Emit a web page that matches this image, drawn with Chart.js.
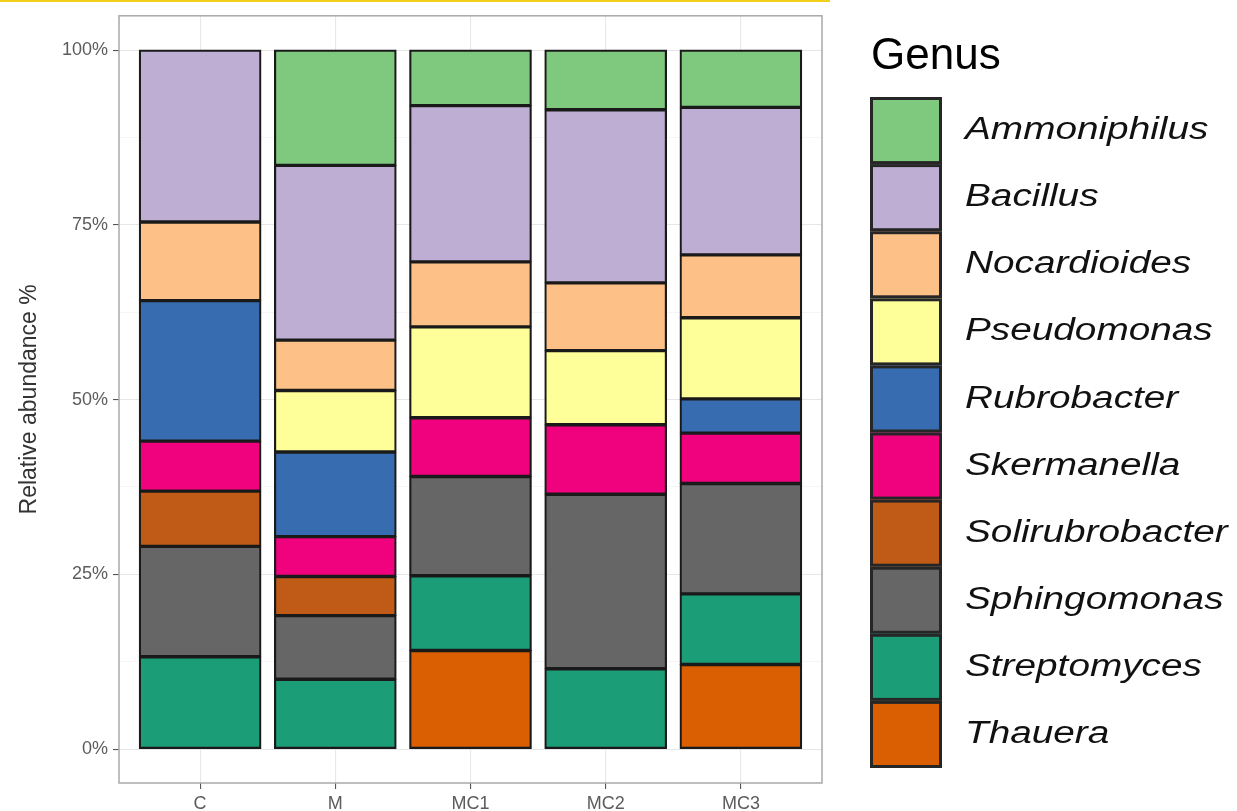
<!DOCTYPE html>
<html>
<head>
<meta charset="utf-8">
<title>Relative abundance by genus</title>
<script src="https://cdn.jsdelivr.net/npm/chart.js@4.4.1/dist/chart.umd.min.js"></script>
<style>
  html, body { margin: 0; padding: 0; background: #ffffff; }
  #wrap { position: relative; width: 1237px; height: 811px; }
  #topline { position: absolute; left: 0; top: 0; width: 830px; height: 2px; background: #f3cf1c; }
  canvas { display: block; }
</style>
</head>
<body>
<div id="wrap">
  <canvas id="chart" width="1237" height="811"></canvas>
  <div id="topline"></div>
</div>
<script>
// Samples along the x axis
const samples = ['C', 'M', 'MC1', 'MC2', 'MC3'];

// Relative abundance (%) of each genus per sample
const ammoniphilus    = [0,     16.5,  7.95,  8.53,  8.2];
const bacillus        = [24.6,  25.0,  22.35, 24.77, 21.1];
const nocardioides    = [11.25, 7.2,   9.3,   9.7,   9.0];
const pseudomonas     = [0,     8.8,   13.0,  10.6,  11.6];
const rubrobacter     = [20.1,  12.1,  0,     0,     4.9];
const skermanella     = [7.15,  5.7,   8.4,   9.95,  7.2];
const solirubrobacter = [7.9,   5.6,   0,     0,     0];
const sphingomonas    = [15.8,  9.1,   14.2,  24.95, 15.8];
const streptomyces    = [13.2,  10.0,  10.7,  11.5,  10.1];
const thauera         = [0,     0,     14.1,  0,     12.1];

// Legend order (top of each stack first) and fill colours
const genera  = ['Ammoniphilus', 'Bacillus', 'Nocardioides', 'Pseudomonas', 'Rubrobacter',
                 'Skermanella', 'Solirubrobacter', 'Sphingomonas', 'Streptomyces', 'Thauera'];
const colours = ['#7FC97F', '#BEAED4', '#FDC086', '#FFFF99', '#386CB0',
                 '#F0027F', '#BF5B17', '#666666', '#1B9E77', '#D95F02'];
const seriesValues = [ammoniphilus, bacillus, nocardioides, pseudomonas, rubrobacter,
                      skermanella, solirubrobacter, sphingomonas, streptomyces, thauera];

// Labelled y breaks; minor grid lines fall half-way between them
const yBreaks = [0, 25, 50, 75, 100];

const FAMILY = "'Liberation Sans', Arial, Helvetica, sans-serif";
Chart.defaults.font.family = FAMILY;

// Stacks are built bottom-up, so the last genus goes in first
const datasets = genera.map((name, g) => ({
  label: name,
  data: seriesValues[g].map((v, i) => ({ x: i, y: v })),
  backgroundColor: colours[g],
  borderColor: '#1a1a1a',
  borderWidth: 2.2,
  borderSkipped: false,
  inflateAmount: 0.5,
  categoryPercentage: 0.9,
  barPercentage: 1.0
})).reverse();

// Full panel frame around the plotting area
const panelFrame = {
  id: 'panelFrame',
  beforeDatasetsDraw(chart) {
    const { ctx, chartArea: a } = chart;
    ctx.save();
    ctx.strokeStyle = '#a9a9a9';
    ctx.lineWidth = 1.5;
    ctx.strokeRect(a.left, a.top, a.right - a.left, a.bottom - a.top);
    ctx.restore();
  }
};

// Legend with large stacked keys on the right
const genusLegend = {
  id: 'genusLegend',
  afterDraw(chart, args, opts) {
    const { ctx } = chart;
    const items = chart.data.datasets.slice().reverse();
    ctx.save();
    ctx.fillStyle = '#000';
    ctx.font = `44px ${FAMILY}`;
    ctx.textBaseline = 'alphabetic';
    ctx.textAlign = 'left';
    ctx.fillText(opts.title, opts.x + 1, opts.titleBaseline);

    items.forEach((ds, i) => {
      const top = opts.top + i * opts.keyH;
      ctx.fillStyle = ds.backgroundColor;
      ctx.fillRect(opts.x, top, opts.keyW, opts.keyH);
      ctx.lineWidth = 3;
      ctx.strokeStyle = '#262626';
      ctx.strokeRect(opts.x + 1.5, top + 1.5, opts.keyW - 3, opts.keyH - 3);

      ctx.save();
      ctx.translate(opts.labelX, top + opts.keyH / 2);
      ctx.scale(1.25, 1);
      ctx.font = `italic 31px ${FAMILY}`;
      ctx.textBaseline = 'middle';
      ctx.fillStyle = '#111';
      ctx.fillText(ds.label, 0, 0);
      ctx.restore();
    });
    ctx.restore();
  }
};

new Chart(document.getElementById('chart'), {
  type: 'bar',
  data: { datasets },
  plugins: [panelFrame, genusLegend],
  options: {
    responsive: false,
    animation: false,
    layout: { padding: { left: 0, top: 13, right: 415, bottom: 0 } },
    plugins: {
      legend: { display: false },
      tooltip: { enabled: false },
      genusLegend: {
        title: 'Genus',
        x: 870, top: 97, keyW: 72, keyH: 67.1,
        labelX: 965, titleBaseline: 69
      }
    },
    scales: {
      x: {
        type: 'linear',
        stacked: true,
        offset: false,
        min: -0.6,
        max: 4.6,
        afterBuildTicks(scale) {
          scale.ticks = samples.map((_, i) => ({ value: i }));
        },
        afterFit(scale) { scale.height = 28; },
        border: { display: false },
        grid: {
          offset: false,
          color: '#e8e8e8',
          lineWidth: 1.1,
          drawTicks: true,
          tickLength: 6,
          tickColor: '#555'
        },
        ticks: {
          autoSkip: false,
          maxRotation: 0,
          padding: 4,
          color: '#5c5c5c',
          font: { size: 18 },
          callback: (v) => samples[v] ?? ''
        }
      },
      y: {
        stacked: true,
        min: -4.85,
        max: 104.9,
        afterBuildTicks(scale) {
          const t = [];
          yBreaks.forEach((b, i) => {
            t.push({ value: b });
            if (i < yBreaks.length - 1) t.push({ value: (b + yBreaks[i + 1]) / 2 });
          });
          scale.ticks = t;
        },
        afterFit(scale) { scale.width = 119; },
        border: { display: false },
        grid: {
          color: (c) => (yBreaks.includes(c.tick && c.tick.value) ? '#e6e6e6' : '#f1f1f1'),
          lineWidth: (c) => (yBreaks.includes(c.tick && c.tick.value) ? 1.1 : 0.7),
          drawTicks: true,
          tickLength: 6,
          tickColor: (c) => (yBreaks.includes(c.tick && c.tick.value) ? '#555' : 'rgba(0,0,0,0)')
        },
        ticks: {
          autoSkip: false,
          padding: 5,
          color: '#5c5c5c',
          font: { size: 18 },
          callback: (v) => (yBreaks.includes(v) ? v + '%' : '')
        },
        title: {
          display: true,
          text: 'Relative abundance %',
          color: '#333',
          font: { size: 23 },
          padding: { top: 16, bottom: 0 }
        }
      }
    }
  }
});
</script>
</body>
</html>
